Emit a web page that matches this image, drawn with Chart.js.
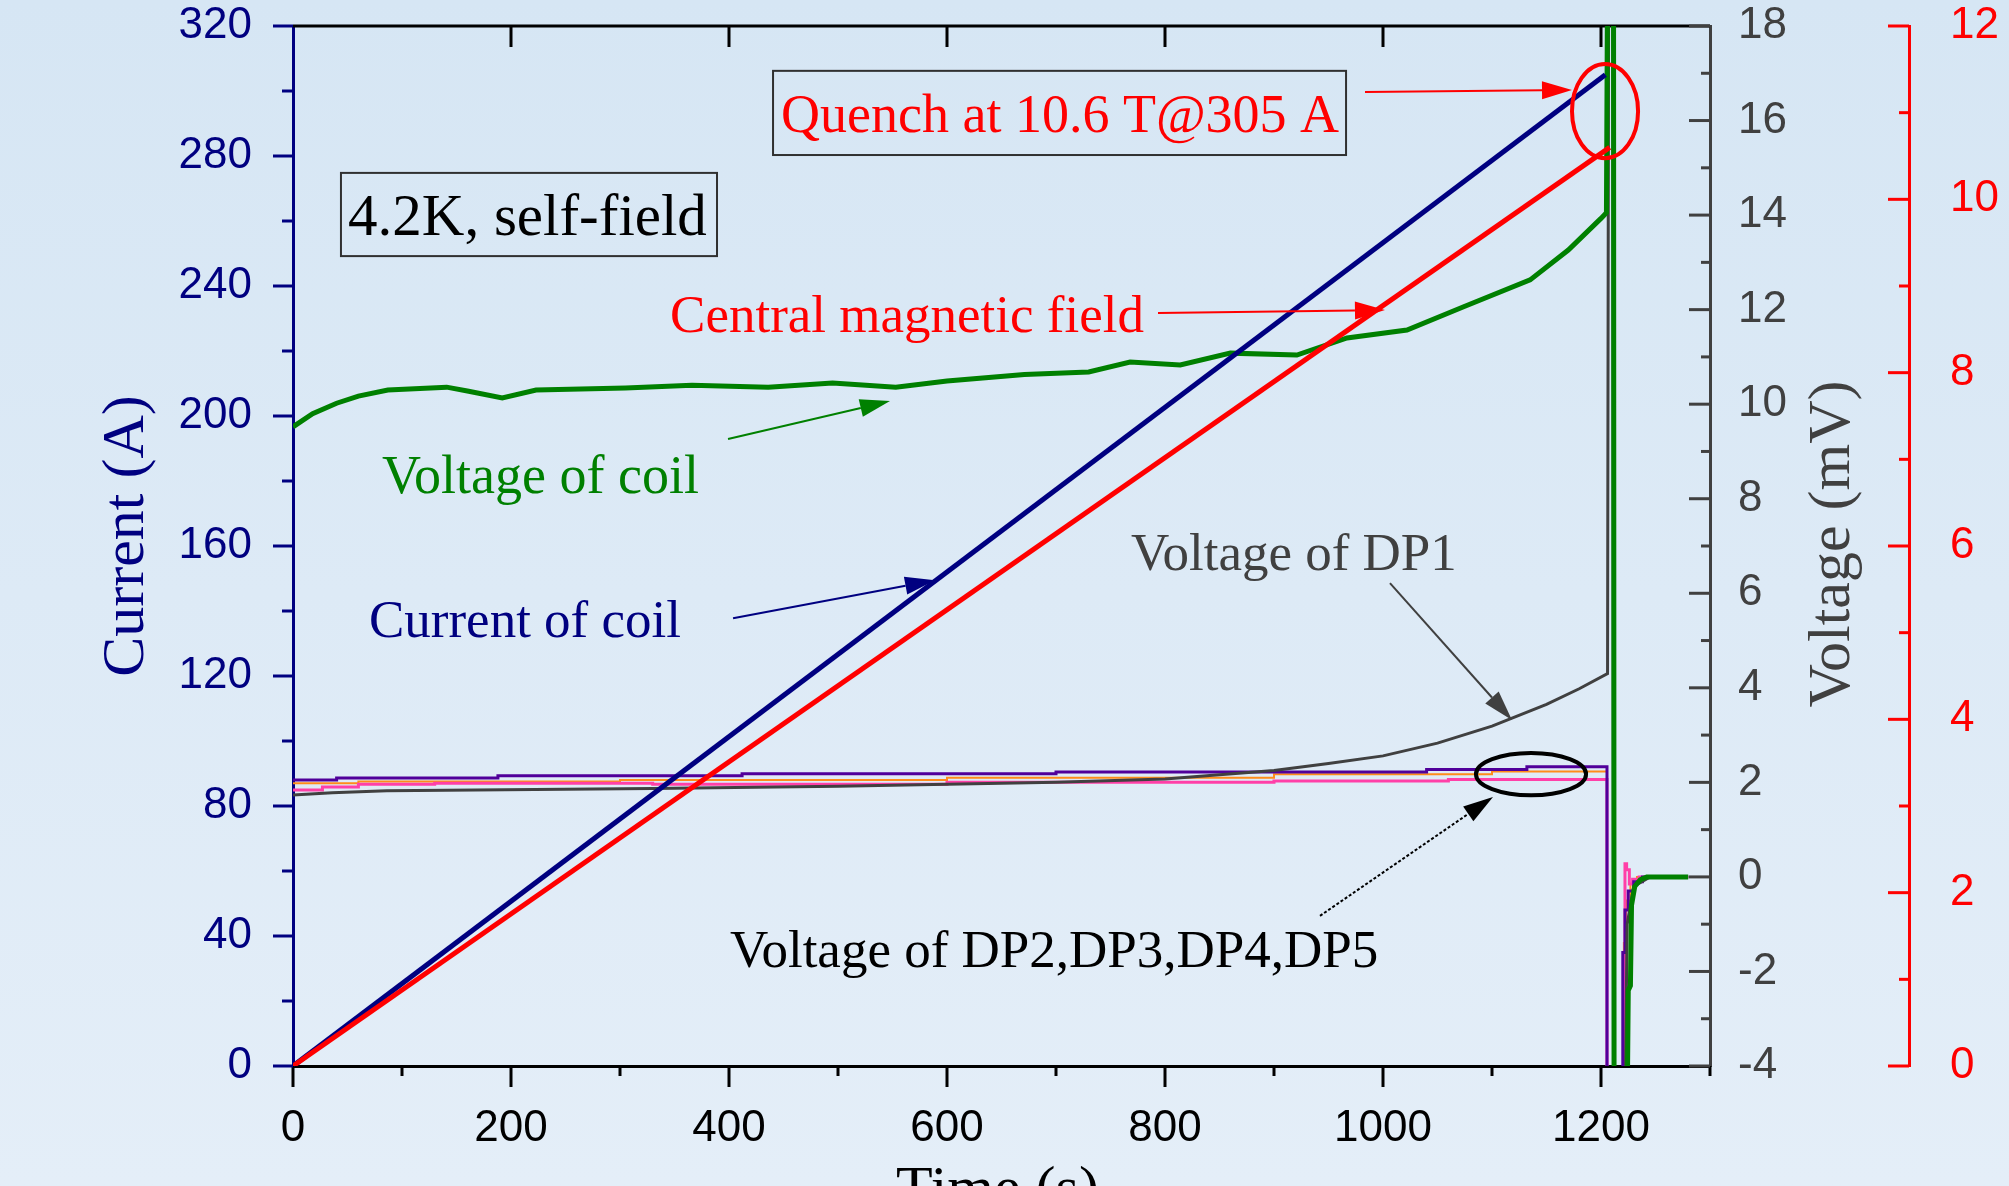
<!DOCTYPE html>
<html>
<head>
<meta charset="utf-8">
<script src="https://cdn.jsdelivr.net/npm/chart.js@4.4.1/dist/chart.umd.min.js"></script>
<style>
  html, body { margin: 0; padding: 0; background: #dde9f6; }
  canvas { display: block; }
</style>
</head>
<body>
<canvas id="quenchChart" width="2009" height="1186"></canvas>
<script>
// Tick values for each axis (major / minor)
const timeTicks = [0, 200, 400, 600, 800, 1000, 1200];
const timeMinor = [100, 300, 500, 700, 900, 1100, 1300];
const currentTicks = [0, 40, 80, 120, 160, 200, 240, 280, 320];
const currentMinor = [20, 60, 100, 140, 180, 220, 260, 300];
const voltTicks = [-4, -2, 0, 2, 4, 6, 8, 10, 12, 14, 16, 18];
const voltMinor = [-3, -1, 1, 3, 5, 7, 9, 11, 13, 15, 17];
const fieldTicks = [0, 2, 4, 6, 8, 10, 12];
const fieldMinor = [1, 3, 5, 7, 9, 11];

const currentTime = [0, 1204];
const currentAmp = [0, 305];
const fieldTime = [0, 1208];
const fieldTesla = [0, 10.6];

// Voltage of coil (mV)
const coilTime = [0, 18, 40, 60, 87, 141, 160, 192, 223, 305, 366, 436, 495, 553, 600, 671, 730, 768, 814, 860, 921, 967, 1022, 1074, 1135, 1170, 1200, 1205, 1206, 1211.5, 1212, 1224, 1225, 1227, 1228, 1231, 1236, 1242, 1280];
const coilMv = [9.52, 9.8, 10.02, 10.17, 10.3, 10.36, 10.28, 10.13, 10.3, 10.34, 10.4, 10.36, 10.45, 10.36, 10.49, 10.63, 10.68, 10.89, 10.83, 11.08, 11.04, 11.4, 11.57, 12.06, 12.63, 13.26, 13.93, 14.05, 19, 19, -5, -5, -2.4, -2.3, -0.6, -0.2, -0.06, 0, 0];

// Voltage of DP1 (mV)
const dp1Time = [0, 36, 86, 330, 500, 700, 800, 900, 950, 1000, 1050, 1100, 1150, 1180, 1206, 1207, 1211, 1211.5, 1222, 1224, 1230, 1245, 1280];
const dp1Mv = [1.73, 1.78, 1.82, 1.87, 1.92, 2.0, 2.07, 2.25, 2.4, 2.56, 2.83, 3.19, 3.65, 3.98, 4.3, 19, 19, -5, -5, -1, -0.2, 0, 0];

// Voltage of DP2..DP5 (mV), stepped signals (value changes at each time)
const dp2Time = [0, 40, 188, 412, 700, 1040, 1132, 1205.5, 1220, 1222, 1225, 1230, 1238, 1280];
const dp2Mv = [2.05, 2.09, 2.14, 2.18, 2.22, 2.27, 2.33, -5, -1.6, -0.7, -0.3, -0.1, 0, 0];
const dp3Time = [0, 27, 60, 130, 330, 600, 900, 1060, 1205.5, 1222, 1223.5, 1226, 1229, 1235, 1280];
const dp3Mv = [1.84, 1.9, 1.96, 1.98, 1.96, 2.0, 2.03, 2.06, -5, 0.28, 0.15, -0.15, -0.05, 0, 0];
const dp4Time = [0, 60, 300, 600, 900, 1100, 1205.5, 1221, 1223, 1227, 1233, 1280];
const dp4Mv = [1.98, 2.02, 2.05, 2.1, 2.17, 2.23, -5, -1.4, -0.5, -0.15, 0, 0];

const sans = '"Liberation Sans", Arial, sans-serif';
const serif = '"Liberation Serif", "Times New Roman", serif';

function pts(ts, vs) {
  return ts.map((t, i) => ({ x: t, y: vs[i] }));
}

function fixTicks(values) {
  return (scale) => {
    scale.ticks = values.map((v) => ({ value: v }));
  };
}

// fixed axis box sizes so the plot area lands where the original has it
function fitBox(size) {
  return (scale) => {
    if (scale.isHorizontal()) scale.height = size;
    else scale.width = size;
    scale.paddingTop = 0;
    scale.paddingBottom = 0;
    scale.paddingLeft = 0;
    scale.paddingRight = 0;
  };
}

// Annotation layout, in (time s, current A) units
const notes = [
  { text: "Quench at 10.6 T@305 A", t: 447.7, a: 287.4, color: "#ff0000", size: 54 },
  { text: "4.2K, self-field", t: 50.5, a: 255.7, color: "#000000", size: 59 },
  { text: "Central magnetic field", t: 345.9, a: 225.8, color: "#ff0000", size: 53 },
  { text: "Voltage of coil", t: 81.7, a: 176.3, color: "#008000", size: 54 },
  { text: "Current of coil", t: 69.7, a: 132.0, color: "#000080", size: 53 },
  { text: "Voltage of DP1", t: 768.8, a: 152.6, color: "#404040", size: 53 },
  { text: "Voltage of DP2,DP3,DP4,DP5", t: 400.9, a: 30.5, color: "#000000", size: 53 },
];
const boxes = [
  { t1: 440.4, t2: 966.1, a1: 306.2, a2: 280.3 },
  { t1: 44.0, t2: 389.0, a1: 274.8, a2: 249.2 },
];
const arrows = [
  { t1: 983.5, a1: 299.7, t2: 1173.4, a2: 300.3, color: "#ff0000" },
  { t1: 793.6, a1: 231.7, t2: 1001.8, a2: 232.6, color: "#ff0000" },
  { t1: 399.1, a1: 192.9, t2: 547.7, a2: 204.6, color: "#008000" },
  { t1: 403.7, a1: 137.8, t2: 589.0, a2: 149.5, color: "#000080" },
  { t1: 1006.4, a1: 148.6, t2: 1118.3, a2: 106.5, color: "#404040" },
  { t1: 942.2, a1: 46.2, t2: 1100.9, a2: 82.8, color: "#000000", dash: [3, 2] },
];
const ellipses = [
  { t: 1203.7, a: 293.8, rt: 30.3, ra: 14.5, color: "#ff0000" },
  { t: 1135.8, a: 89.8, rt: 50.5, ra: 6.5, color: "#000000" },
];

const backgroundPlugin = {
  id: "background",
  beforeDraw(chart) {
    const { ctx, width, height } = chart;
    const g = ctx.createLinearGradient(0, 0, 0, height);
    g.addColorStop(0, "#d6e6f4");
    g.addColorStop(1, "#e4eef8");
    ctx.save();
    ctx.fillStyle = g;
    ctx.fillRect(0, 0, width, height);
    ctx.restore();
  },
};

function tickMarks(ctx, scale, values, base, len, color) {
  ctx.strokeStyle = color;
  ctx.lineWidth = 3;
  values.forEach((v) => {
    const p = scale.getPixelForValue(v);
    ctx.beginPath();
    if (scale.isHorizontal()) {
      ctx.moveTo(p, base);
      ctx.lineTo(p, base + len);
    } else {
      ctx.moveTo(base, p);
      ctx.lineTo(base + len, p);
    }
    ctx.stroke();
  });
}

const framePlugin = {
  id: "frame",
  beforeDatasetsDraw(chart) {
    const { ctx, chartArea } = chart;
    const { x, yI, yV, yB } = chart.scales;
    ctx.save();
    // top frame line
    ctx.strokeStyle = "#000000";
    ctx.lineWidth = 3;
    ctx.beginPath();
    ctx.moveTo(chartArea.left, chartArea.top);
    ctx.lineTo(chartArea.right, chartArea.top);
    ctx.stroke();
    tickMarks(ctx, x, timeTicks.slice(1), chartArea.top, 21, "#000000");
    tickMarks(ctx, x, timeTicks, chartArea.bottom, 21, "#000000");
    tickMarks(ctx, x, timeMinor, chartArea.bottom, 10, "#000000");
    tickMarks(ctx, yI, currentTicks, yI.right, -20, "#000080");
    tickMarks(ctx, yI, currentMinor, yI.right, -11, "#000080");
    tickMarks(ctx, yV, voltTicks, yV.left, -21, "#404040");
    tickMarks(ctx, yV, voltMinor, yV.left, -9, "#404040");
    tickMarks(ctx, yB, fieldTicks, yB.left, -21, "#ff0000");
    tickMarks(ctx, yB, fieldMinor, yB.left, -10, "#ff0000");
    ctx.restore();
  },
};

function arrow(ctx, x1, y1, x2, y2, color, dash) {
  const ang = Math.atan2(y2 - y1, x2 - x1);
  const L = 30, W = 9;
  const bx = x2 - L * Math.cos(ang);
  const by = y2 - L * Math.sin(ang);
  ctx.strokeStyle = color;
  ctx.fillStyle = color;
  ctx.lineWidth = 2;
  ctx.setLineDash(dash || []);
  ctx.beginPath();
  ctx.moveTo(x1, y1);
  ctx.lineTo(bx, by);
  ctx.stroke();
  ctx.setLineDash([]);
  ctx.beginPath();
  ctx.moveTo(x2, y2);
  ctx.lineTo(bx - W * Math.sin(ang), by + W * Math.cos(ang));
  ctx.lineTo(bx + W * Math.sin(ang), by - W * Math.cos(ang));
  ctx.closePath();
  ctx.fill();
}

const annotationPlugin = {
  id: "annotations",
  afterDatasetsDraw(chart) {
    const { ctx, chartArea } = chart;
    const { x, yI } = chart.scales;
    const px = (t) => x.getPixelForValue(t);
    const py = (a) => yI.getPixelForValue(a);
    ctx.save();

    boxes.forEach((b) => {
      ctx.strokeStyle = "#303030";
      ctx.lineWidth = 2;
      ctx.strokeRect(px(b.t1), py(b.a1), px(b.t2) - px(b.t1), py(b.a2) - py(b.a1));
    });

    ctx.textBaseline = "alphabetic";
    ctx.textAlign = "left";
    notes.forEach((n) => {
      ctx.font = n.size + "px " + serif;
      ctx.fillStyle = n.color;
      ctx.fillText(n.text, px(n.t), py(n.a));
    });

    arrows.forEach((a) => arrow(ctx, px(a.t1), py(a.a1), px(a.t2), py(a.a2), a.color, a.dash));

    ellipses.forEach((e) => {
      ctx.strokeStyle = e.color;
      ctx.lineWidth = 4;
      ctx.beginPath();
      ctx.ellipse(px(e.t), py(e.a), px(e.t + e.rt) - px(e.t), py(e.a) - py(e.a + e.ra), 0, 0, Math.PI * 2);
      ctx.stroke();
    });

    // axis titles
    const midY = (chartArea.top + chartArea.bottom) / 2;
    ctx.font = "60px " + serif;
    ctx.textAlign = "center";
    ctx.textBaseline = "middle";
    ctx.save();
    ctx.translate(127, midY - 10);
    ctx.rotate(-Math.PI / 2);
    ctx.fillStyle = "#000080";
    ctx.fillText("Current (A)", 0, 0);
    ctx.restore();
    ctx.save();
    ctx.translate(1833, midY - 2);
    ctx.rotate(-Math.PI / 2);
    ctx.fillStyle = "#404040";
    ctx.fillText("Voltage (mV)", 0, 0);
    ctx.restore();
    ctx.textBaseline = "alphabetic";
    ctx.fillStyle = "#000000";
    ctx.fillText("Time (s)", (chartArea.left + chartArea.right) / 2 - 4, 1207);

    ctx.restore();
  },
};

const tickFont = { family: sans, size: 44 };

const ctx = document.getElementById("quenchChart").getContext("2d");
const quenchChart = new Chart(ctx, {
  type: "line",
  data: {
    datasets: [
      { label: "Central magnetic field", data: pts(fieldTime, fieldTesla), yAxisID: "yB", borderColor: "#ff0000", borderWidth: 5 },
      { label: "Current of coil", data: pts(currentTime, currentAmp), yAxisID: "yI", borderColor: "#000080", borderWidth: 5 },
      { label: "Voltage of coil", data: pts(coilTime, coilMv), yAxisID: "yV", borderColor: "#008000", borderWidth: 5 },
      { label: "Voltage of DP1", data: pts(dp1Time, dp1Mv), yAxisID: "yV", borderColor: "#404040", borderWidth: 3 },
      { label: "Voltage of DP2", data: pts(dp2Time, dp2Mv), yAxisID: "yV", borderColor: "#50009a", borderWidth: 3, stepped: "before" },
      { label: "Voltage of DP3", data: pts(dp3Time, dp3Mv), yAxisID: "yV", borderColor: "#ff40a8", borderWidth: 3, stepped: "before" },
      { label: "Voltage of DP4", data: pts(dp4Time, dp4Mv), yAxisID: "yV", borderColor: "#ff8c1a", borderWidth: 2, stepped: "before" },
    ],
  },
  options: {
    responsive: false,
    animation: false,
    devicePixelRatio: 1,
    layout: { padding: { top: 26, left: 0, right: 0, bottom: 0 } },
    elements: { point: { radius: 0 }, line: { tension: 0 } },
    plugins: { legend: { display: false }, tooltip: { enabled: false } },
    scales: {
      x: {
        type: "linear",
        position: "bottom",
        min: 0,
        max: 1300,
        afterBuildTicks: fixTicks(timeTicks),
        afterFit: fitBox(120),
        grid: { display: false, drawTicks: false },
        border: { display: true, color: "#000000", width: 3 },
        ticks: { color: "#000000", font: tickFont, padding: 36, maxRotation: 0, autoSkip: false, callback: (v) => String(v) },
      },
      yI: {
        type: "linear",
        position: "left",
        min: 0,
        max: 320,
        afterBuildTicks: fixTicks(currentTicks),
        afterFit: fitBox(293),
        grid: { display: false, drawTicks: false },
        border: { display: true, color: "#000080", width: 3 },
        ticks: { color: "#000080", font: tickFont, padding: 41, callback: (v) => String(v) },
      },
      yV: {
        type: "linear",
        position: "right",
        min: -4,
        max: 18,
        afterBuildTicks: fixTicks(voltTicks),
        afterFit: fitBox(199),
        grid: { display: false, drawTicks: false },
        border: { display: true, color: "#404040", width: 3 },
        ticks: { color: "#404040", font: tickFont, padding: 28, callback: (v) => String(v) },
      },
      yB: {
        type: "linear",
        position: "right",
        min: 0,
        max: 12,
        afterBuildTicks: fixTicks(fieldTicks),
        afterFit: fitBox(100),
        grid: { display: false, drawTicks: false },
        border: { display: true, color: "#ff0000", width: 3 },
        ticks: { color: "#ff0000", font: tickFont, padding: 41, callback: (v) => String(v) },
      },
    },
  },
  plugins: [backgroundPlugin, framePlugin, annotationPlugin],
});
</script>
</body>
</html>
